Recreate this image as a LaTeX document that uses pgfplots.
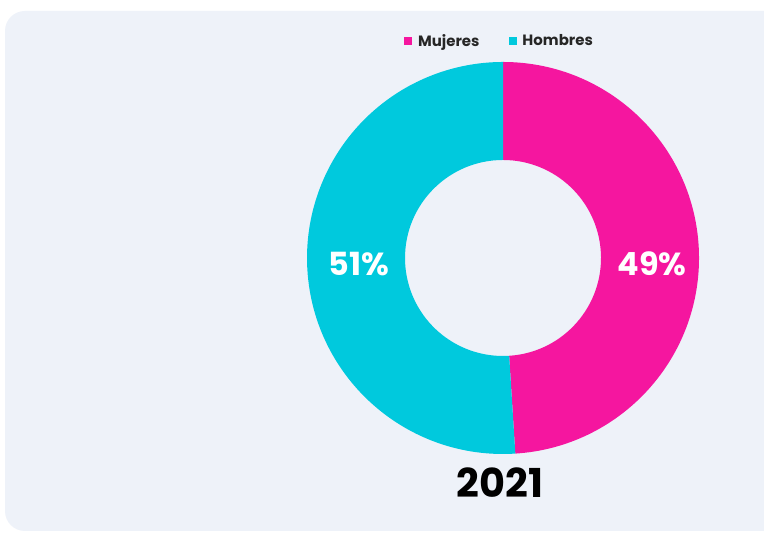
\documentclass[border=0pt]{standalone}
\usepackage{fontspec}
\setmainfont{Poppins}
\usepackage{pgfplots}
\pgfplotsset{compat=1.18}
\usepackage{pgfplotstable}
\usetikzlibrary{calc}

\definecolor{panelbg}{HTML}{EEF2F9}
\definecolor{mujer}{HTML}{F5169F}
\definecolor{hombre}{HTML}{00C9DD}

% porcentaje por grupo, 2021
\pgfplotstableread{
grupo valor
Mujeres 49
Hombres 51
}\shares

\begin{document}
\begin{tikzpicture}[x=1bp,y=1bp]
\useasboundingbox (0,0) rectangle (764,534);
\fill[white] (0,0) rectangle (764,534);
\fill[panelbg, rounded corners=20bp] (5,3) rectangle (800,523);

\pgfplotstablegetelem{0}{valor}\of\shares \let\vm\pgfplotsretval
\pgfplotstablegetelem{1}{valor}\of\shares \let\vh\pgfplotsretval
\pgfmathsetmacro\aend{90-3.6*\vm}

\begin{axis}[at={(0,0)}, anchor=south west, scale only axis,
  width=764bp, height=534bp, xmin=0, xmax=764, ymin=0, ymax=534,
  hide axis, clip=false,
  legend columns=2,
  legend style={at={(axis cs:499.5,493)}, anchor=center, draw=none, fill=none,
    font=\bfseries\fontsize{15}{17}\selectfont, text=black!85,
    /tikz/every odd column/.append style={column sep=4bp},
    /tikz/every even column/.append style={column sep=27bp}},
  legend image code/.code={\fill[#1] (0bp,-4bp) rectangle (8bp,4bp);}]
\addlegendimage{fill=mujer, draw=none}
\addlegendentry{Mujeres}
\addlegendimage{fill=hombre, draw=none}
\addlegendentry{Hombres}

% anillo
\fill[mujer] (axis cs:503,472) arc[start angle=90, end angle=\aend, radius=196bp]
  -- ($(axis cs:503,276)+(\aend:98bp)$) arc[start angle=\aend, end angle=90, radius=98bp] -- cycle;
\fill[hombre] ($(axis cs:503,276)+(\aend:196bp)$) arc[start angle=\aend, end angle=-270, radius=196bp]
  -- (axis cs:503,374) arc[start angle=90, end angle=\aend+360, radius=98bp] -- cycle;

\node[text=white, font=\bfseries\fontsize{32}{36}\selectfont] at (axis cs:652,270) {\vm\%};
\node[text=white, font=\bfseries\fontsize{32}{36}\selectfont] at (axis cs:359,270) {\vh\%};
\node[text=black, font=\bfseries\fontsize{40}{44}\selectfont] at (axis cs:500,51) {2021};
\end{axis}
\end{tikzpicture}
\end{document}
